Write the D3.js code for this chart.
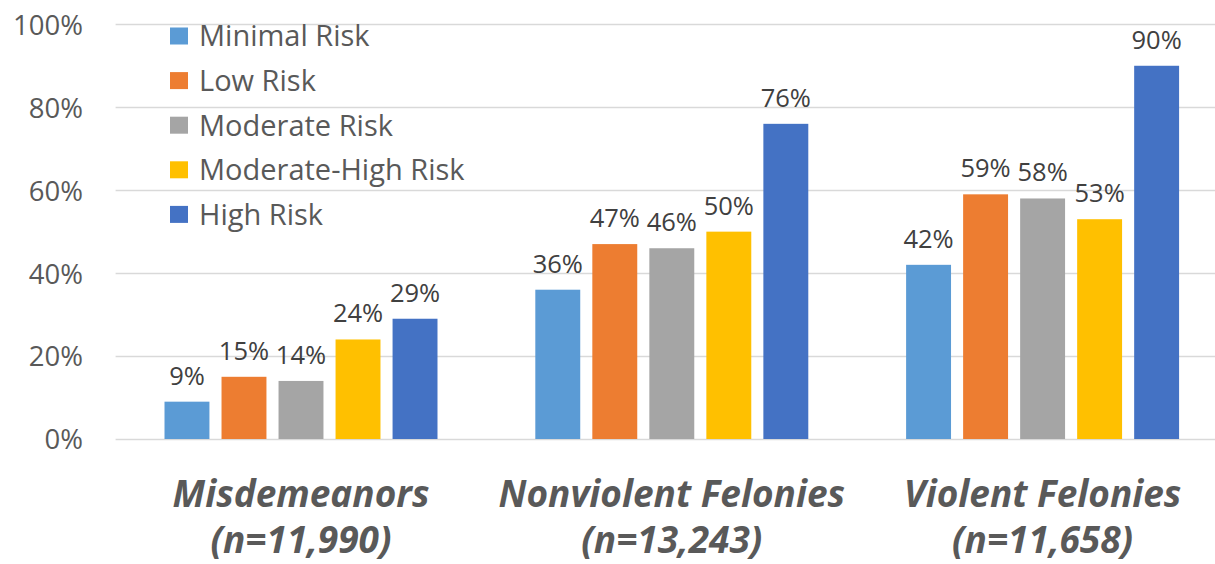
<!DOCTYPE html>
<html>
<head>
<meta charset="utf-8">
<script src="https://cdn.jsdelivr.net/npm/d3@7/dist/d3.min.js"></script>
<style>
  html, body { margin: 0; padding: 0; background: #fff; }
  svg { display: block; font-family: "Open Sans", "Noto Sans", sans-serif; }
</style>
</head>
<body>
<svg id="chart" width="1215" height="564"></svg>
<script>
// Offense categories and sample sizes
const categories = ["Misdemeanors", "Nonviolent Felonies", "Violent Felonies"];
const sampleSizes = ["(n=11,990)", "(n=13,243)", "(n=11,658)"];

// Risk levels (series) and their colours
const riskLevels = ["Minimal Risk", "Low Risk", "Moderate Risk", "Moderate-High Risk", "High Risk"];
const riskColors = ["#5B9BD5", "#ED7D31", "#A5A5A5", "#FFC000", "#4472C4"];

// Percent per risk level, one array per category
const misdemeanors = [9, 15, 14, 24, 29];
const nonviolentFelonies = [36, 47, 46, 50, 76];
const violentFelonies = [42, 59, 58, 53, 90];

// Y axis ticks
const yTicks = [0, 20, 40, 60, 80, 100];

const seriesByCategory = [misdemeanors, nonviolentFelonies, violentFelonies];
const rows = categories.map((c, i) => ({
  category: c,
  n: sampleSizes[i],
  values: riskLevels.map((r, j) => ({ risk: r, value: seriesByCategory[i][j], color: riskColors[j] }))
}));

const svg = d3.select("#chart");
const plotLeft = 115.6, plotRight = 1228, plotTop = 24.3, plotBottom = 439;

const x0 = d3.scaleBand()
  .domain(categories)
  .range([plotLeft, plotRight])
  .paddingInner(0.2638)
  .paddingOuter(0.1319);

const x1 = d3.scaleBand()
  .domain(riskLevels)
  .range([0, x0.bandwidth()])
  .paddingInner(0.212)
  .paddingOuter(0);

const y = d3.scaleLinear().domain([0, 100]).range([plotBottom, plotTop]);

// Gridlines
svg.append("g")
  .selectAll("line")
  .data(yTicks)
  .join("line")
  .attr("x1", plotLeft)
  .attr("x2", 1215)
  .attr("y1", d => Math.round(y(d)) + 0.5)
  .attr("y2", d => Math.round(y(d)) + 0.5)
  .attr("stroke", "#D9D9D9")
  .attr("stroke-width", 1.3);

// Y axis labels
const yAxis = d3.axisLeft(y).tickValues(yTicks).tickFormat(d => d + "%").tickSize(0).tickPadding(0);
const yAxisG = svg.append("g")
  .attr("transform", `translate(83,0)`)
  .call(yAxis);
yAxisG.select(".domain").remove();
yAxisG.selectAll("text")
  .attr("fill", "#595959")
  .style("font-size", "27.5px")
  .style("font-family", "\"Open Sans\", \"Noto Sans\", sans-serif")
  .attr("dy", "0.36em");

// Bars
const groups = svg.append("g")
  .selectAll("g")
  .data(rows)
  .join("g")
  .attr("transform", d => `translate(${x0(d.category)},0)`);

groups.selectAll("rect")
  .data(d => d.values)
  .join("rect")
  .attr("x", d => x1(d.risk))
  .attr("width", x1.bandwidth())
  .attr("y", d => y(d.value))
  .attr("height", d => y(0) - y(d.value))
  .attr("fill", d => d.color);

// Value labels
groups.selectAll("text.value")
  .data(d => d.values)
  .join("text")
  .attr("class", "value")
  .attr("x", d => x1(d.risk) + x1.bandwidth() / 2)
  .attr("y", d => y(d.value) - 17)
  .attr("text-anchor", "middle")
  .attr("fill", "#404040")
  .style("font-size", "25.5px")
  .text(d => d.value + "%");

// Category labels
const catLabels = svg.append("g")
  .selectAll("text")
  .data(rows)
  .join("text")
  .attr("x", d => x0(d.category) + x0.bandwidth() / 2)
  .attr("y", 506.5)
  .attr("text-anchor", "middle")
  .attr("fill", "#595959")
  .style("font-size", "37px")
  .style("font-weight", "bold")
  .style("font-style", "italic");
catLabels.append("tspan").text(d => d.category);
catLabels.append("tspan")
  .attr("x", d => x0(d.category) + x0.bandwidth() / 2)
  .attr("dy", 46.5)
  .text(d => d.n);

// Legend
const legend = svg.append("g")
  .selectAll("g")
  .data(riskLevels)
  .join("g")
  .attr("transform", (d, i) => `translate(170,${36 + i * 44.6})`);

legend.append("rect")
  .attr("x", 0)
  .attr("y", -8.5)
  .attr("width", 18)
  .attr("height", 17)
  .attr("fill", (d, i) => riskColors[i]);

legend.append("text")
  .attr("x", 29)
  .attr("y", 0)
  .attr("dy", "0.36em")
  .attr("fill", "#595959")
  .style("font-size", "29px")
  .text(d => d);
</script>
</body>
</html>
